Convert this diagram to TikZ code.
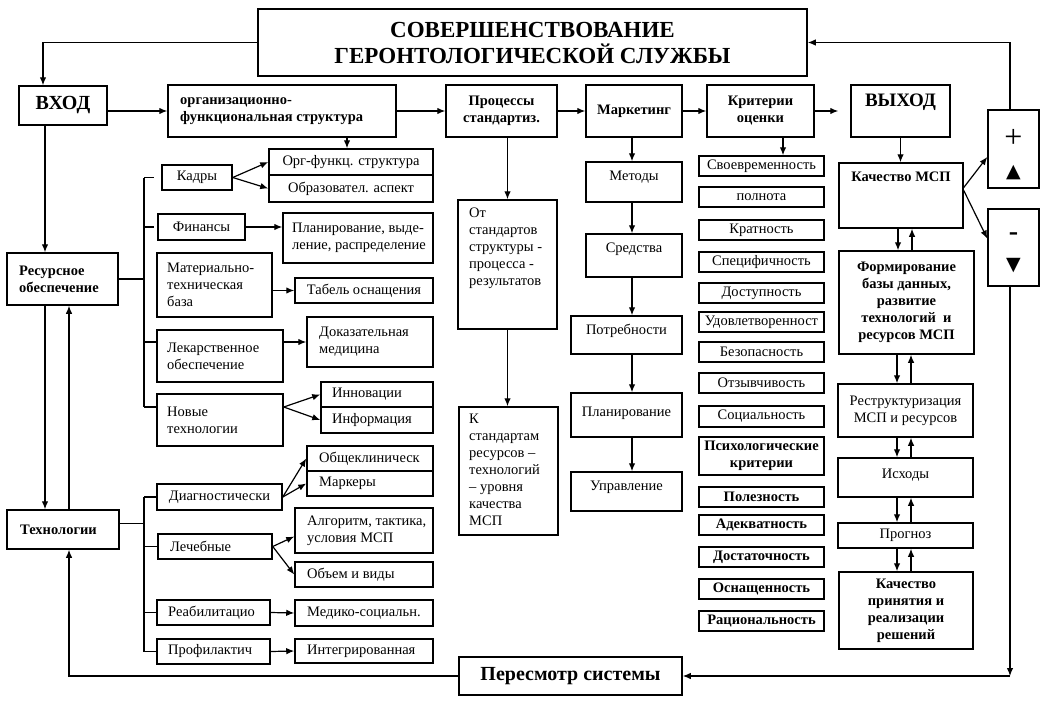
\documentclass[tikz,border=0pt]{standalone}
\usepackage{fontspec}
\setmainfont{Liberation Serif}
\newfontfamily\symfont{DejaVu Sans}
\usetikzlibrary{arrows.meta}
\tikzset{
  boxo/.style={draw, line width=1.5pt, inner sep=0pt, font=\fontsize{14.5}{17}\selectfont},
  box/.style={boxo, align=center},
  bbox/.style={box, font=\fontsize{14.5}{17}\selectfont\bfseries},
  bboxo/.style={boxo, font=\fontsize{14.5}{17}\selectfont\bfseries},
  txt/.style={inner sep=0pt, align=left, font=\fontsize{14.5}{17}\selectfont},
  btxt/.style={txt, font=\fontsize{14.5}{17}\selectfont\bfseries},
  arr/.style={line width=1.2pt, -{Latex[length=8pt,width=6.5pt]}},
  ln/.style={line width=1.2pt},
}
\newcommand\mybox[7]{\node[#6,minimum width={(#4-#2)*1pt},minimum height={(#5-#3)*1pt}] (#1) at ({(#2+#4)/2},{(#3+#5)/2}) {#7};}
\newcommand\mylbox[8]{\node[boxo,minimum width={(#4-#2)*1pt},minimum height={(#5-#3)*1pt}] (#1) at ({(#2+#4)/2},{(#3+#5)/2}) {};
  \node[#6,anchor=west] (#1-t) at ({#2+#8},{(#3+#5)/2}) {#7};}
\begin{document}
\begin{tikzpicture}[x=1pt,y=-1pt]
\fill[white] (0,0) rectangle (1051,701);
\useasboundingbox (0,0) rectangle (1051,701);
% top row
\mybox{title}{258}{9}{807}{76}{box,font=\fontsize{23}{26}\selectfont\bfseries}{СОВЕРШЕНСТВОВАНИЕ\\ГЕРОНТОЛОГИЧЕСКОЙ СЛУЖБЫ}
\mybox{vhod}{19}{86}{107}{125}{boxo,font=\fontsize{20}{22}\selectfont\bfseries}{ВХОД}
\mylbox{org}{168}{85}{396}{137}{btxt}{организационно-\\функциональная структура}{12}
\mybox{proc}{446}{85}{557}{137}{bbox}{Процессы\\стандартиз.}
\mybox{mark}{586}{85}{682}{137}{bbox}{Маркетинг}
\mybox{krit}{707}{85}{814}{137}{bbox}{Критерии\\оценки}
\mybox{vyhod}{851}{85}{950}{137}{boxo,font=\fontsize{19}{22}\selectfont\bfseries,text depth=22pt}{ВЫХОД}
\mybox{plus}{988}{110}{1039}{188}{boxo}{}
\node[inner sep=0pt,font=\fontsize{32}{32}\selectfont] (plus-a) at (1013.5,138) {+};
\node[inner sep=0pt,font=\symfont\fontsize{19}{19}\selectfont] (plus-b) at (1013.5,173) {▲};
\mybox{minus}{988}{209}{1039}{286}{boxo}{}
\node[inner sep=0pt,font=\fontsize{28}{28}\selectfont\bfseries] (minus-a) at (1013.5,237) {-};
\node[inner sep=0pt,font=\symfont\fontsize{19}{19}\selectfont] (minus-b) at (1013.5,266) {▼};
% left column
\mylbox{resurs}{7}{253}{118}{305}{btxt}{Ресурсное\\обеспечение}{12}
\mylbox{tech}{7}{510}{119}{549}{btxt}{Технологии}{13}
% resource branches
\mybox{kadry}{162}{165}{232}{190}{box}{Кадры}
\mybox{orgfunc}{269}{149}{433}{175}{box}{Орг-функц. структура}
\mybox{obraz}{269}{175}{433}{202}{box}{Образовател. аспект}
\mybox{fin}{158}{214}{245}{240}{box}{Финансы}
\mylbox{plan}{283}{213}{433}{263}{txt}{Планирование, выде-\\ление, распределение}{9}
\mylbox{mat}{157}{253}{272}{317}{txt}{Материально-\\техническая\\база}{10}
\mybox{tabel}{295}{278}{433}{303}{box}{Табель оснащения}
\mylbox{lek}{157}{330}{283}{382}{txt}{Лекарственное\\обеспечение}{10}
\mylbox{dokaz}{307}{317}{433}{367}{txt}{Доказательная\\медицина}{12}
\mylbox{novye}{157}{394}{283}{446}{txt}{Новые\\технологии}{10}
\mylbox{innov}{321}{382}{433}{407}{txt}{Инновации}{11}
\mylbox{inform}{321}{407}{433}{433}{txt}{Информация}{11}
% technology branches
\mybox{diag}{157}{484}{282}{510}{box}{Диагностически}
\mylbox{obsh}{307}{446}{433}{471}{txt}{Общеклиническ}{12}
\mylbox{markery}{307}{471}{433}{496}{txt}{Маркеры}{12}
\mylbox{lech}{158}{534}{272}{559}{txt}{Лечебные}{12}
\mylbox{algo}{295}{508}{433}{553}{txt}{Алгоритм, тактика,\\условия МСП}{12}
\mylbox{obem}{295}{562}{433}{587}{txt}{Объем и виды}{12}
\mylbox{reab}{157}{600}{270}{625}{txt}{Реабилитацио}{11}
\mylbox{medsoc}{295}{600}{433}{626}{txt}{Медико-социальн.}{12}
\mylbox{prof}{157}{639}{270}{664}{txt}{Профилактич}{11}
\mylbox{integ}{295}{639}{433}{663}{txt}{Интегрированная}{12}
% standards
\mybox{ot}{458}{200}{557}{329}{boxo}{}
\node[txt,anchor=north west] (ot-t) at (469,208) {От\\стандартов\\структуры -\\процесса -\\результатов};
\mybox{k}{459}{407}{558}{535}{boxo}{}
\node[txt,anchor=north west] (k-t) at (469,414) {К\\стандартам\\ресурсов –\\технологий\\– уровня\\качества\\МСП};
% marketing column
\mybox{metody}{586}{162}{682}{202}{boxo,text depth=13pt}{Методы}
\mybox{sredstva}{586}{234}{682}{277}{boxo,text depth=16pt}{Средства}
\mybox{potreb}{571}{316}{682}{354}{boxo,text depth=11pt}{Потребности}
\mybox{plan2}{571}{393}{682}{437}{boxo,text depth=7pt}{Планирование}
\mybox{uprav}{571}{472}{682}{511}{boxo,text depth=12pt}{Управление}
% criteria
\mybox{c1}{699}{156}{824}{176}{box}{Своевременность}
\mybox{c2}{699}{187}{824}{207}{box}{полнота}
\mybox{c3}{699}{220}{824}{240}{box}{Кратность}
\mybox{c4}{699}{252}{824}{272}{box}{Специфичность}
\mybox{c5}{699}{283}{824}{303}{box}{Доступность}
\mybox{c6}{699}{312}{824}{332}{box}{Удовлетворенност}
\mybox{c7}{699}{342}{824}{362}{box}{Безопасность}
\mybox{c8}{699}{373}{824}{393}{box}{Отзывчивость}
\mybox{c9}{699}{406}{824}{427}{box}{Социальность}
\mybox{c10}{699}{437}{824}{475}{bbox}{Психологические\\критерии}
\mybox{c11}{699}{487}{824}{507}{bbox}{Полезность}
\mybox{c12}{699}{515}{824}{535}{bbox}{Адекватность}
\mybox{c13}{699}{547}{824}{567}{bbox}{Достаточность}
\mybox{c14}{699}{579}{824}{599}{bbox}{Оснащенность}
\mybox{c15}{699}{611}{824}{631}{bbox}{Рациональность}
% output column
\mybox{kach}{839}{163}{963}{228}{bboxo,text depth=37pt}{Качество МСП}
\mybox{form}{839}{251}{974}{354}{bbox}{Формирование\\базы данных,\\развитие\\технологий~~и\\ресурсов МСП}
\mybox{restr}{838}{384}{973}{437}{box}{Реструктуризация\\МСП и ресурсов}
\mybox{ishod}{838}{458}{973}{497}{boxo,text depth=8pt}{Исходы}
\mybox{prog}{838}{523}{973}{548}{box}{Прогноз}
\mybox{kpr}{839}{572}{973}{649}{bbox}{Качество\\принятия и\\реализации\\решений}
% bottom
\mybox{review}{459}{657}{682}{695}{boxo,font=\fontsize{20}{22}\selectfont\bfseries}{Пересмотр системы}
% ---- connectors ----
\draw[arr] (title.west) -| (43,0 |- vhod.north);
\draw[arr] (vhod.east |- org.west) -- (org.west);
\draw[arr] (org.east) -- (proc.west);
\draw[arr] (proc.east) -- (mark.west);
\draw[arr] (mark.east) -- (krit.west);
\draw[arr, shorten >=12pt] (krit.east) -- (vyhod.west);
\draw[arr] (347,0 |- org.south) -- (347,0 |- orgfunc.north);
\draw[arr] (ot.north |- proc.south) -- (ot.north);
\draw[arr] (ot.south) -- (ot.south |- k.north);
\draw[arr] (783,0 |- krit.south) -- (783,0 |- c1.north);
\draw[arr] (632,0 |- mark.south) -- (632,0 |- metody.north);
\draw[arr] (632,0 |- metody.south) -- (632,0 |- sredstva.north);
\draw[arr] (632,0 |- sredstva.south) -- (632,0 |- potreb.north);
\draw[arr] (632,0 |- potreb.south) -- (632,0 |- plan2.north);
\draw[arr] (632,0 |- plan2.south) -- (632,0 |- uprav.north);
\draw[arr] (vyhod.south) -- (vyhod.south |- kach.north);
\coordinate (kp) at ([yshift=8pt]kach.east);
\coordinate (km) at ([yshift=5pt]kach.east);
\draw[arr] (kp) -- ([yshift=-8pt]plus.west);
\draw[arr] (km) -- ([yshift=9pt]minus.west);
\draw[arr] (1010,0 |- plus.north) |- (title.east);
\coordinate (corner) at (1010,676);
\draw[arr] (corner |- minus.south) -- (corner);
\draw[arr] (corner) -- (review.east);
\draw[arr] (review.west) -| (69,0 |- tech.south);
\draw[arr] (898,0 |- kach.south) -- (898,0 |- form.north);
\draw[arr] (912,0 |- form.north) -- (912,0 |- kach.south);
\draw[arr] (897,0 |- form.south) -- (897,0 |- restr.north);
\draw[arr] (911,0 |- restr.north) -- (911,0 |- form.south);
\draw[arr] (897,0 |- restr.south) -- (897,0 |- ishod.north);
\draw[arr] (911,0 |- ishod.north) -- (911,0 |- restr.south);
\draw[arr] (897,0 |- ishod.south) -- (897,0 |- prog.north);
\draw[arr] (911,0 |- prog.north) -- (911,0 |- ishod.south);
\draw[arr] (897,0 |- prog.south) -- (897,0 |- kpr.north);
\draw[arr] (911,0 |- kpr.north) -- (911,0 |- prog.south);
% left column
\draw[arr] (45,0 |- vhod.south) -- (45,0 |- resurs.north);
\draw[arr] (45,0 |- resurs.south) -- (45,0 |- tech.north);
\draw[arr] (69,0 |- tech.north) -- (69,0 |- resurs.south);
% resource bracket
\coordinate (rbt) at (144,0 |- kadry.west);
\coordinate (rbb) at (144,407);
\draw[ln] (resurs.east) -- (resurs.east -| rbt);
\draw[ln] (rbt) -- (rbb);
\draw[ln, shorten >=7pt] (rbt) -- (kadry.west);
\draw[ln, shorten >=3pt] (144,0 |- fin.west) -- (fin.west);
\draw[ln] (144,0 |- dokaz.west) -- (lek.west |- dokaz.west);
\draw[ln] (rbb) -- (novye.west |- rbb);
\draw[arr] (kadry.east) -- (orgfunc.west);
\draw[arr] (kadry.east) -- (obraz.west);
\draw[arr] (fin.east) -- (fin.east -| plan.west);
\draw[arr] (mat.east |- tabel.west) -- (tabel.west);
\draw[arr] (lek.east |- dokaz.west) -- (dokaz.west);
\coordinate (ne) at (novye.east |- rbb);
\draw[arr] (ne) -- (innov.west);
\draw[arr] (ne) -- (inform.west);
% technology bracket
\coordinate (tbt) at (144,0 |- diag.west);
\coordinate (tbb) at (144,0 |- prof.west);
\coordinate (te) at ([yshift=6pt]tech.east);
\draw[ln] (te) -- (te -| tbt);
\draw[ln] (tbt) -- (tbb);
\draw[ln] (tbt) -- (diag.west);
\draw[ln] (144,0 |- lech.west) -- (lech.west);
\draw[ln] (144,0 |- reab.west) -- (reab.west);
\draw[ln] (tbb) -- (prof.west);
\draw[arr] (diag.east) -- (obsh.west);
\draw[arr] (diag.east) -- (markery.west);
\draw[arr] (lech.east) -- ([yshift=-6pt]algo.west);
\draw[arr] (lech.east) -- (obem.west);
\draw[arr] (reab.east) -- (medsoc.west);
\draw[arr] (prof.east) -- (integ.west);
\end{tikzpicture}
\end{document}
